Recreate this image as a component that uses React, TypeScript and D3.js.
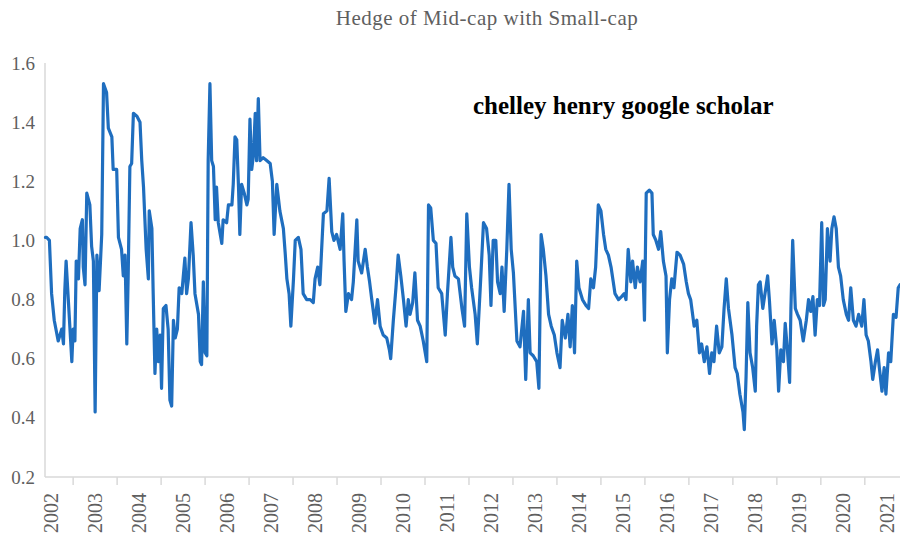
import React from "react";
import * as d3 from "d3";

// Decimal-year dates and hedge ratio values
const dates: number[] = [
  2002.37, 2002.40, 2002.46, 2002.51, 2002.57, 2002.66, 2002.74, 2002.78, 2002.81, 2002.84,
  2002.89, 2002.97, 2003.00, 2003.04, 2003.07, 2003.12, 2003.16, 2003.21, 2003.23, 2003.27,
  2003.31, 2003.38, 2003.42, 2003.46, 2003.50, 2003.54, 2003.59, 2003.65, 2003.69, 2003.76,
  2003.80, 2003.88, 2003.91, 2003.99, 2004.03, 2004.10, 2004.14, 2004.18, 2004.22, 2004.25,
  2004.29, 2004.33, 2004.37, 2004.45, 2004.52, 2004.56, 2004.60, 2004.66, 2004.71, 2004.73,
  2004.79, 2004.82, 2004.86, 2004.90, 2004.94, 2004.98, 2005.01, 2005.05, 2005.11, 2005.16,
  2005.20, 2005.24, 2005.28, 2005.32, 2005.37, 2005.41, 2005.47, 2005.54, 2005.58, 2005.62,
  2005.68, 2005.73, 2005.77, 2005.85, 2005.89, 2005.92, 2005.96, 2006.00, 2006.04, 2006.07,
  2006.11, 2006.15, 2006.19, 2006.23, 2006.26, 2006.30, 2006.38, 2006.41, 2006.49, 2006.53,
  2006.61, 2006.64, 2006.68, 2006.72, 2006.76, 2006.79, 2006.83, 2006.89, 2006.95, 2006.98,
  2007.02, 2007.06, 2007.10, 2007.14, 2007.17, 2007.21, 2007.25, 2007.32, 2007.40, 2007.48,
  2007.53, 2007.57, 2007.63, 2007.70, 2007.78, 2007.82, 2007.86, 2007.91, 2007.95, 2008.01,
  2008.05, 2008.12, 2008.18, 2008.23, 2008.31, 2008.39, 2008.46, 2008.50, 2008.56, 2008.61,
  2008.69, 2008.77, 2008.82, 2008.88, 2008.93, 2008.99, 2009.07, 2009.13, 2009.16, 2009.20,
  2009.26, 2009.33, 2009.37, 2009.45, 2009.48, 2009.56, 2009.64, 2009.69, 2009.74, 2009.79,
  2009.86, 2009.92, 2009.98, 2010.05, 2010.13, 2010.19, 2010.22, 2010.28, 2010.34, 2010.39,
  2010.45, 2010.51, 2010.57, 2010.62, 2010.66, 2010.72, 2010.77, 2010.83, 2010.89, 2010.96,
  2011.04, 2011.08, 2011.13, 2011.19, 2011.25, 2011.30, 2011.38, 2011.46, 2011.51, 2011.59,
  2011.63, 2011.68, 2011.76, 2011.84, 2011.90, 2011.95, 2012.01, 2012.06, 2012.14, 2012.19,
  2012.27, 2012.33, 2012.40, 2012.46, 2012.50, 2012.55, 2012.61, 2012.65, 2012.71, 2012.75,
  2012.80, 2012.86, 2012.91, 2012.96, 2013.01, 2013.09, 2013.16, 2013.24, 2013.29, 2013.35,
  2013.39, 2013.46, 2013.54, 2013.59, 2013.64, 2013.69, 2013.75, 2013.81, 2013.87, 2013.94,
  2014.00, 2014.07, 2014.12, 2014.19, 2014.25, 2014.30, 2014.35, 2014.40, 2014.45, 2014.50,
  2014.58, 2014.66, 2014.72, 2014.77, 2014.83, 2014.88, 2014.94, 2015.00, 2015.06, 2015.11,
  2015.17, 2015.23, 2015.28, 2015.32, 2015.40, 2015.47, 2015.53, 2015.57, 2015.62, 2015.68,
  2015.72, 2015.78, 2015.83, 2015.89, 2015.95, 2015.99, 2016.03, 2016.10, 2016.16, 2016.19,
  2016.25, 2016.31, 2016.36, 2016.42, 2016.48, 2016.51, 2016.56, 2016.61, 2016.66, 2016.73,
  2016.80, 2016.88, 2016.94, 2016.99, 2017.04, 2017.12, 2017.18, 2017.24, 2017.29, 2017.35,
  2017.41, 2017.47, 2017.52, 2017.57, 2017.63, 2017.69, 2017.75, 2017.80, 2017.85, 2017.90,
  2017.98, 2018.05, 2018.10, 2018.16, 2018.23, 2018.26, 2018.30, 2018.34, 2018.39, 2018.45,
  2018.51, 2018.54, 2018.58, 2018.62, 2018.68, 2018.73, 2018.79, 2018.83, 2018.89, 2018.94,
  2019.00, 2019.04, 2019.09, 2019.15, 2019.19, 2019.24, 2019.29, 2019.32, 2019.36, 2019.42,
  2019.47, 2019.53, 2019.60, 2019.67, 2019.72, 2019.77, 2019.82, 2019.87, 2019.92, 2019.97,
  2020.02, 2020.06, 2020.10, 2020.15, 2020.21, 2020.25, 2020.30, 2020.35, 2020.40, 2020.45,
  2020.51, 2020.58, 2020.63, 2020.68, 2020.74, 2020.80, 2020.86, 2020.93, 2020.98, 2021.03,
  2021.08, 2021.14, 2021.18, 2021.24, 2021.29, 2021.33, 2021.39, 2021.44, 2021.48, 2021.54,
  2021.59, 2021.65, 2021.71, 2021.76, 2021.80,
];

const hedgeRatio: number[] = [
  1.01, 1.01, 1.00, 0.82, 0.73, 0.66, 0.70, 0.65, 0.83, 0.93,
  0.80, 0.59, 0.70, 0.66, 0.93, 0.87, 1.04, 1.07, 0.91, 0.85,
  1.16, 1.12, 0.98, 0.93, 0.42, 0.95, 0.83, 1.02, 1.53, 1.50,
  1.38, 1.35, 1.24, 1.24, 1.01, 0.97, 0.88, 0.95, 0.65, 0.87,
  1.25, 1.26, 1.43, 1.42, 1.40, 1.27, 1.18, 0.97, 0.87, 1.10,
  1.04, 0.82, 0.55, 0.70, 0.59, 0.68, 0.50, 0.77, 0.78, 0.70,
  0.46, 0.44, 0.73, 0.67, 0.70, 0.84, 0.82, 0.94, 0.82, 0.87,
  1.06, 0.95, 0.82, 0.75, 0.59, 0.58, 0.86, 0.62, 0.61, 1.27,
  1.53, 1.27, 1.25, 1.07, 1.18, 1.06, 0.99, 1.07, 1.06, 1.12,
  1.12, 1.19, 1.35, 1.34, 1.18, 1.02, 1.19, 1.16, 1.12, 1.14,
  1.41, 1.24, 1.29, 1.43, 1.27, 1.48, 1.27, 1.28, 1.27, 1.26,
  1.20, 1.02, 1.19, 1.10, 1.04, 0.96, 0.87, 0.82, 0.71, 0.87,
  1.00, 1.01, 0.97, 0.82, 0.80, 0.80, 0.79, 0.87, 0.91, 0.85,
  1.09, 1.10, 1.21, 1.03, 1.00, 1.02, 0.97, 1.09, 0.93, 0.76,
  0.82, 0.80, 0.86, 1.07, 0.93, 0.89, 0.97, 0.91, 0.86, 0.80,
  0.72, 0.80, 0.71, 0.68, 0.67, 0.63, 0.60, 0.73, 0.84, 0.95,
  0.88, 0.80, 0.71, 0.80, 0.75, 0.79, 0.89, 0.73, 0.71, 0.66,
  0.59, 1.12, 1.11, 1.00, 0.99, 0.84, 0.82, 0.68, 0.82, 1.01,
  0.91, 0.88, 0.87, 0.77, 0.71, 1.09, 0.91, 0.84, 0.75, 0.65,
  0.88, 1.06, 1.04, 0.95, 0.78, 1.00, 1.00, 0.86, 0.82, 0.91,
  0.76, 0.97, 1.19, 0.97, 0.89, 0.66, 0.64, 0.76, 0.53, 0.80,
  0.62, 0.61, 0.59, 0.50, 1.02, 0.97, 0.88, 0.75, 0.71, 0.68,
  0.62, 0.57, 0.73, 0.67, 0.75, 0.64, 0.78, 0.62, 0.93, 0.84,
  0.80, 0.78, 0.77, 0.87, 0.84, 0.91, 1.12, 1.10, 1.02, 0.97,
  0.95, 0.91, 0.86, 0.82, 0.80, 0.81, 0.82, 0.80, 0.97, 0.86,
  0.93, 0.84, 0.91, 0.86, 0.93, 0.73, 1.16, 1.17, 1.16, 1.02,
  1.00, 0.97, 1.03, 0.93, 0.88, 0.62, 0.80, 0.87, 0.84, 0.96,
  0.95, 0.92, 0.86, 0.82, 0.80, 0.71, 0.73, 0.62, 0.65, 0.59,
  0.64, 0.55, 0.62, 0.59, 0.71, 0.62, 0.64, 0.77, 0.87, 0.77,
  0.68, 0.57, 0.55, 0.48, 0.42, 0.36, 0.54, 0.79, 0.62, 0.57,
  0.49, 0.71, 0.85, 0.86, 0.77, 0.82, 0.88, 0.80, 0.65, 0.73,
  0.63, 0.49, 0.63, 0.59, 0.72, 0.63, 0.52, 0.77, 1.00, 0.77,
  0.75, 0.73, 0.66, 0.73, 0.80, 0.76, 0.81, 0.68, 0.80, 0.78,
  1.06, 0.78, 0.80, 1.04, 0.93, 1.04, 1.08, 1.04, 0.91, 0.88,
  0.80, 0.75, 0.73, 0.84, 0.73, 0.71, 0.75, 0.71, 0.80, 0.68,
  0.66, 0.59, 0.53, 0.59, 0.63, 0.57, 0.49, 0.57, 0.48, 0.62,
  0.59, 0.75, 0.74, 0.84, 0.85,
];

const yearLabels: number[] = d3.range(2002, 2022);
const yTicks: number[] = [0.2, 0.4, 0.6, 0.8, 1.0, 1.2, 1.4, 1.6];
const yearBoundaries: number[] = d3.range(2003, 2022);

const titleText = "Hedge of Mid-cap with Small-cap";
const watermarkText = "chelley henry google scholar";

export default function App() {
  const W = 900;
  const H = 550;
  const left = 45;
  const right = 900;
  const top = 63;
  const bottom = 477;

  const x = d3.scaleLinear().domain([2002.36, 2021.8]).range([left, right]);
  const y = d3.scaleLinear().domain([0.2, 1.6]).range([bottom, top]);

  const points = dates.map((d, i) => [d, hedgeRatio[i]] as [number, number]);
  const lineGen = d3
    .line<[number, number]>()
    .x((d) => x(d[0]))
    .y((d) => y(d[1]));

  const fmt = d3.format(".1f");
  const serif = "'Liberation Serif', 'Times New Roman', serif";
  const textGray = "#5f5f5f";
  const axisGray = "#d9d9d9";

  return (
    <svg
      width={W}
      height={H}
      style={{ position: "absolute", left: 0, top: 0, background: "#fff" }}
    >
      <rect x={0} y={0} width={W} height={H} fill="#fff" />
      <text
        x={487}
        y={25}
        textAnchor="middle"
        fontFamily={serif}
        fontSize={21}
        letterSpacing={0.5}
        fill={textGray}
      >
        {titleText}
      </text>

      {/* y axis */}
      <line x1={left} x2={left} y1={top} y2={bottom} stroke={axisGray} strokeWidth={1.5} />
      {yTicks.map((t) => (
        <text
          key={t}
          x={35}
          y={y(t)}
          textAnchor="end"
          dominantBaseline="central"
          fontFamily={serif}
          fontSize={19}
          fill={textGray}
        >
          {fmt(t)}
        </text>
      ))}

      {/* x axis */}
      <line x1={left} x2={right} y1={bottom} y2={bottom} stroke={axisGray} strokeWidth={1.5} />
      {yearBoundaries.map((b) => (
        <line
          key={b}
          x1={x(b)}
          x2={x(b)}
          y1={bottom}
          y2={bottom + 8}
          stroke={axisGray}
          strokeWidth={1.5}
        />
      ))}
      {yearLabels.map((yr) => {
        const cx = x(yr + 0.5);
        return (
          <text
            key={yr}
            transform={`translate(${cx},493) rotate(-90)`}
            textAnchor="end"
            dominantBaseline="central"
            fontFamily={serif}
            fontSize={20}
            fill={textGray}
          >
            {yr}
          </text>
        );
      })}

      {/* series */}
      <path
        d={lineGen(points) || ""}
        fill="none"
        stroke="#1f6ebf"
        strokeWidth={3.2}
        strokeLinejoin="round"
        strokeLinecap="round"
      />

      <text
        x={473}
        y={114}
        fontFamily={serif}
        fontWeight="bold"
        fontSize={25}
        fill="#000"
      >
        {watermarkText}
      </text>
    </svg>
  );
}
